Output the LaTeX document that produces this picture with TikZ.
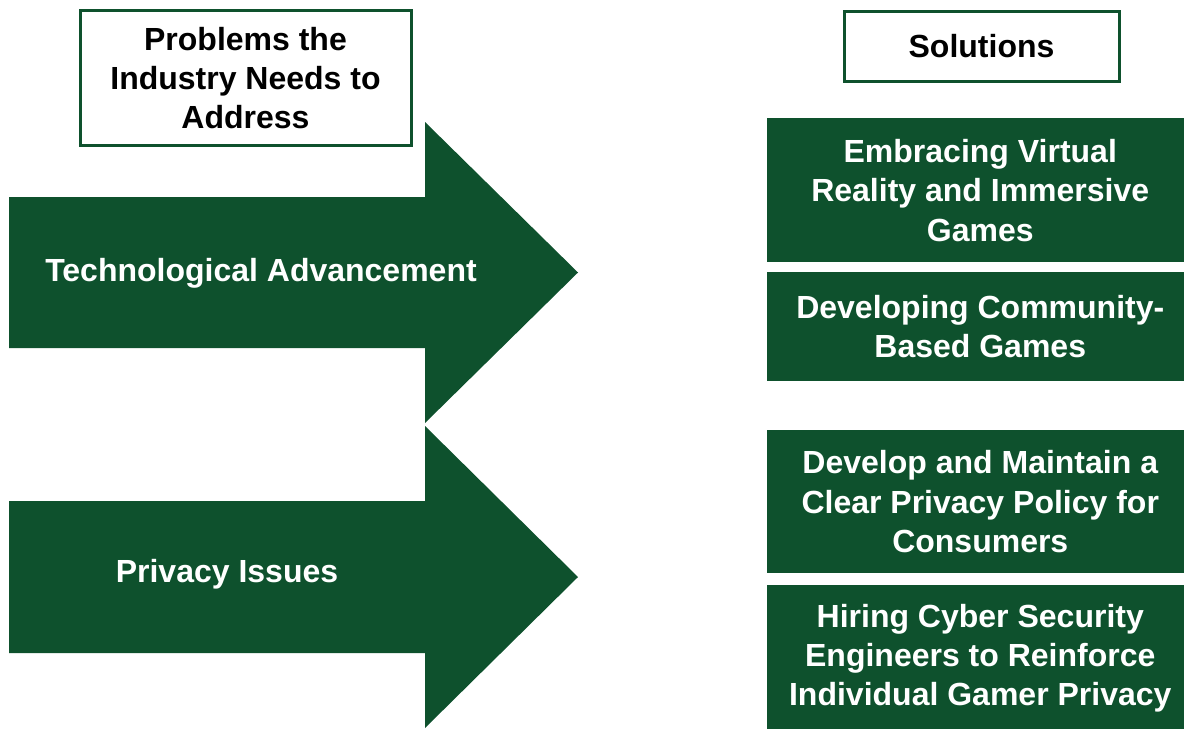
\documentclass[tikz,border=0pt]{standalone}
\usepackage{fontspec}
\setmainfont{Liberation Sans}
\usepackage{tikz}
\usetikzlibrary{positioning}
\definecolor{gamegreen}{RGB}{14,81,45}

\begin{document}
\begin{tikzpicture}[
    x=0.75pt, y=-0.75pt,
    head/.style={rectangle, draw=gamegreen, line width=2.25pt, fill=white, align=center, inner sep=0pt, anchor=north west, font=\fontsize{24}{29.5}\selectfont\bfseries},
    sol/.style={rectangle, fill=gamegreen, text=white, align=center, inner sep=0pt, anchor=north west, minimum width=319.5pt, font=\fontsize{24}{29.5}\selectfont\bfseries},
    bigarrow/.style={fill=gamegreen},
    arrowtext/.style={text=white, font=\fontsize{24}{29.5}\selectfont\bfseries}
]
\useasboundingbox (0,0) rectangle (1184,728);
\clip (0,0) rectangle (1184,728);

% column headers
\node[head, minimum width=248.25pt, minimum height=101.25pt] (problems) at (78.5,9) {Problems the\\Industry Needs to\\Address};
\node[head, minimum width=206.25pt, minimum height=52.5pt] (solutions) at (842.5,10) {Solutions};

% problem arrows
\fill[bigarrow] (9,197) -- (425,197) -- (425,122) -- (578,272.5) -- (425,423) -- (425,348) -- (9,348) -- cycle;
\fill[bigarrow] (9,501) -- (425,501) -- (425,426) -- (578,577) -- (425,728) -- (425,653) -- (9,653) -- cycle;
\node[arrowtext] (tech) at (261,273) {Technological Advancement};
\node[arrowtext] (privacy) at (227,574) {Privacy Issues};

% solution boxes
\node[sol, minimum height=108pt] (vr) at (767,118) {Embracing Virtual\\Reality and Immersive\\Games};
\node[sol, minimum height=81.75pt] (community) at (767,272) {Developing Community-\\Based Games};
\node[sol, minimum height=107.25pt] (policy) at (767,430) {Develop and Maintain a\\Clear Privacy Policy for\\Consumers};
\node[sol, minimum height=109.5pt] (engineers) at (767,585) {Hiring Cyber Security\\Engineers to Reinforce\\Individual Gamer Privacy};
\end{tikzpicture}
\end{document}
